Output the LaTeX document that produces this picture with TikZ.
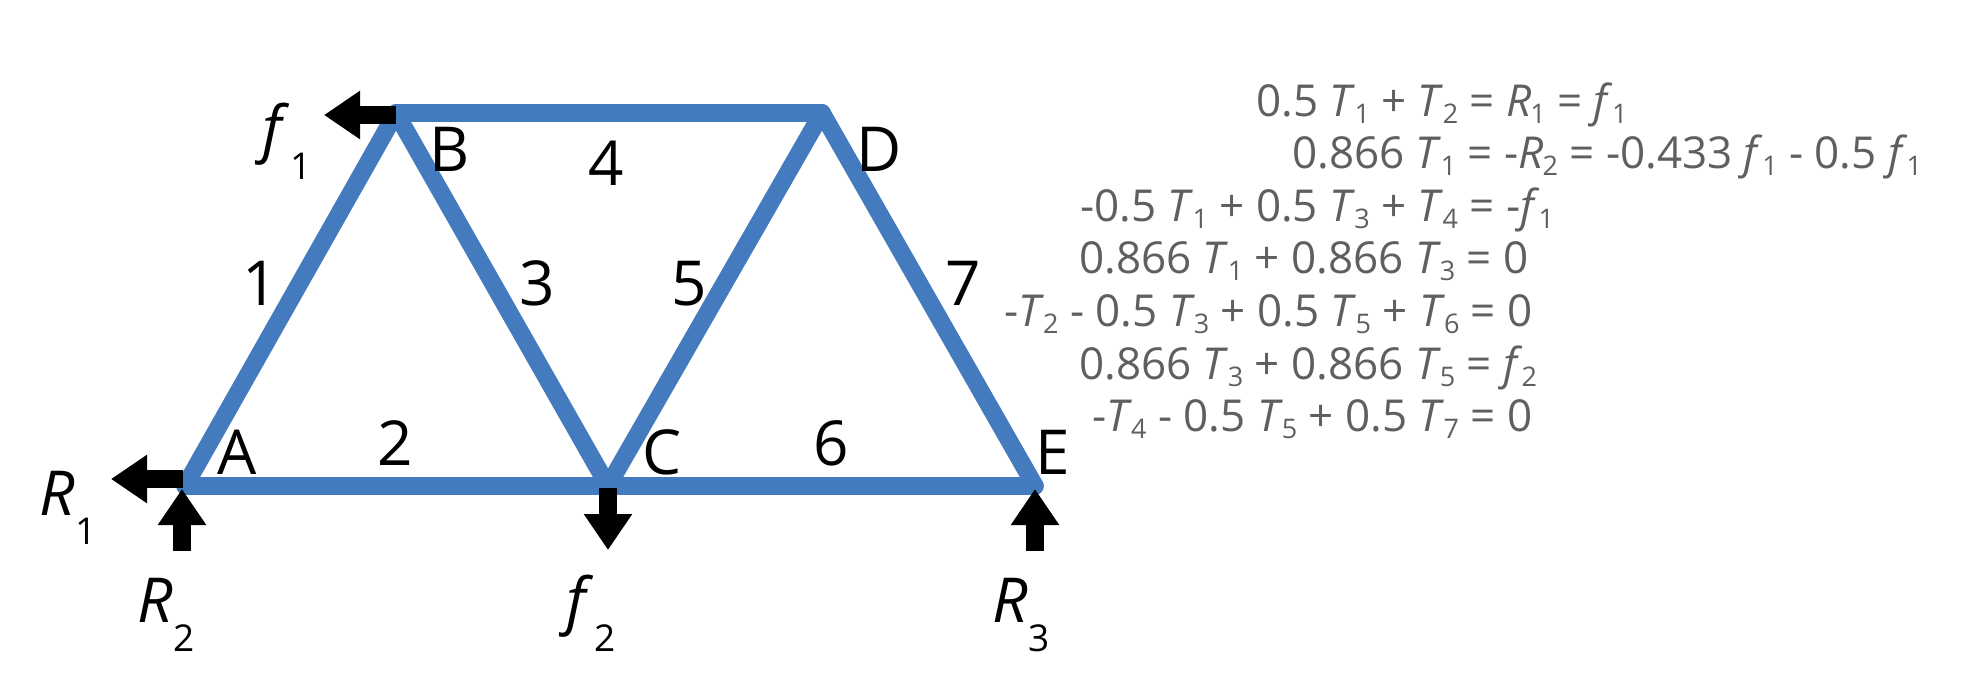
\documentclass[tikz,border=0pt]{standalone}
\usepackage{fontspec}
\setmainfont{Open Sans}
\usetikzlibrary{arrows.meta}
\definecolor{member}{HTML}{447BBE}
\definecolor{eqgray}{HTML}{5F5F5F}
\newcommand{\lblsub}[1]{\kern1pt\raisebox{-29pt}{\fontsize{37}{37}\selectfont #1}}
\newcommand{\eqv}[2]{\textit{#1}\kern-1pt\raisebox{-7pt}{\fontsize{27}{27}\selectfont #2}}
\tikzset{
  x=1pt,y=-1pt,
  strut/.style={draw=member,line width=17.5pt,line cap=round,line join=round},
  force/.style={draw=black,line width=17.5pt,-{Triangle[length=36pt,width=46pt]}},
  lab/.style={anchor=base,inner sep=0pt,font=\fontsize{62}{62}\selectfont},
  sym/.style={anchor=base west,inner sep=0pt,font=\fontsize{62}{62}\selectfont},
  eq/.style={anchor=base west,inner sep=0pt,text=eqgray,font=\fontsize{44}{44}\selectfont},
}
\begin{document}
\begin{tikzpicture}
\useasboundingbox (0,0) rectangle (1982,673);
\coordinate (A) at (185,486);
\coordinate (B) at (396,113);
\coordinate (C) at (608,486);
\coordinate (D) at (822,113);
\coordinate (E) at (1035,486);
\draw[strut] (A) -- (B);
\draw[strut] (A) -- (C);
\draw[strut] (B) -- (C);
\draw[strut] (B) -- (D);
\draw[strut] (C) -- (D);
\draw[strut] (C) -- (E);
\draw[strut] (D) -- (E);
\coordinate (f1s) at (396,115);
\coordinate (f1t) at (324,115);
\coordinate (r1s) at (183,479);
\coordinate (r1t) at (111,479);
\coordinate (r2s) at (182,551);
\coordinate (r2t) at (182,489);
\coordinate (f2s) at (608,488);
\coordinate (f2t) at (608,550);
\coordinate (r3s) at (1035,551);
\coordinate (r3t) at (1035,489);
\draw[force] (f1s) -- (f1t);
\draw[force] (r1s) -- (r1t);
\draw[force] (r2s) -- (r2t);
\draw[force] (f2s) -- (f2t);
\draw[force] (r3s) -- (r3t);
\node[lab] (la) at (237,474) {A};
\node[lab] (lb) at (450,171) {B};
\node[lab] (lc) at (662,474) {C};
\node[lab] (ld) at (879,171) {D};
\node[lab] (le) at (1053,474) {E};
\node[lab] (n1) at (260,305) {1};
\node[lab] (n2) at (395,465) {2};
\node[lab] (n3) at (537,305) {3};
\node[lab] (n4) at (606,185) {4};
\node[lab] (n5) at (689,305) {5};
\node[lab] (n6) at (831,465) {6};
\node[lab] (n7) at (963,305) {7};
\node[sym] (sf1) at (262,150) {\textit{f}\lblsub{1}};
\node[sym] (sr1) at (39,515) {\textit{R}\lblsub{1}};
\node[sym] (sr2) at (137,622) {\textit{R}\lblsub{2}};
\node[sym] (sf2) at (566,622) {\textit{f}\lblsub{2}};
\node[sym] (sr3) at (992,622) {\textit{R}\lblsub{3}};
\node[eq] (e1) at (1256,116) {0.5 \eqv{T}{1} + \eqv{T}{2} = \eqv{R}{1} = \eqv{f}{1}};
\node[eq] (e2) at (1292,168) {0.866 \eqv{T}{1} = -\eqv{R}{2} = -0.433 \eqv{f}{1} - 0.5 \eqv{f}{1}};
\node[eq] (e3) at (1080,221) {-0.5 \eqv{T}{1} + 0.5 \eqv{T}{3} + \eqv{T}{4} = -\eqv{f}{1}};
\node[eq] (e4) at (1079,273) {0.866 \eqv{T}{1} + 0.866 \eqv{T}{3} = 0};
\node[eq] (e5) at (1004,326) {-\eqv{T}{2} - 0.5 \eqv{T}{3} + 0.5 \eqv{T}{5} + \eqv{T}{6} = 0};
\node[eq] (e6) at (1079,379) {0.866 \eqv{T}{3} + 0.866 \eqv{T}{5} = \eqv{f}{2}};
\node[eq] (e7) at (1092,431) {-\eqv{T}{4} - 0.5 \eqv{T}{5} + 0.5 \eqv{T}{7} = 0};
\end{tikzpicture}
\end{document}
